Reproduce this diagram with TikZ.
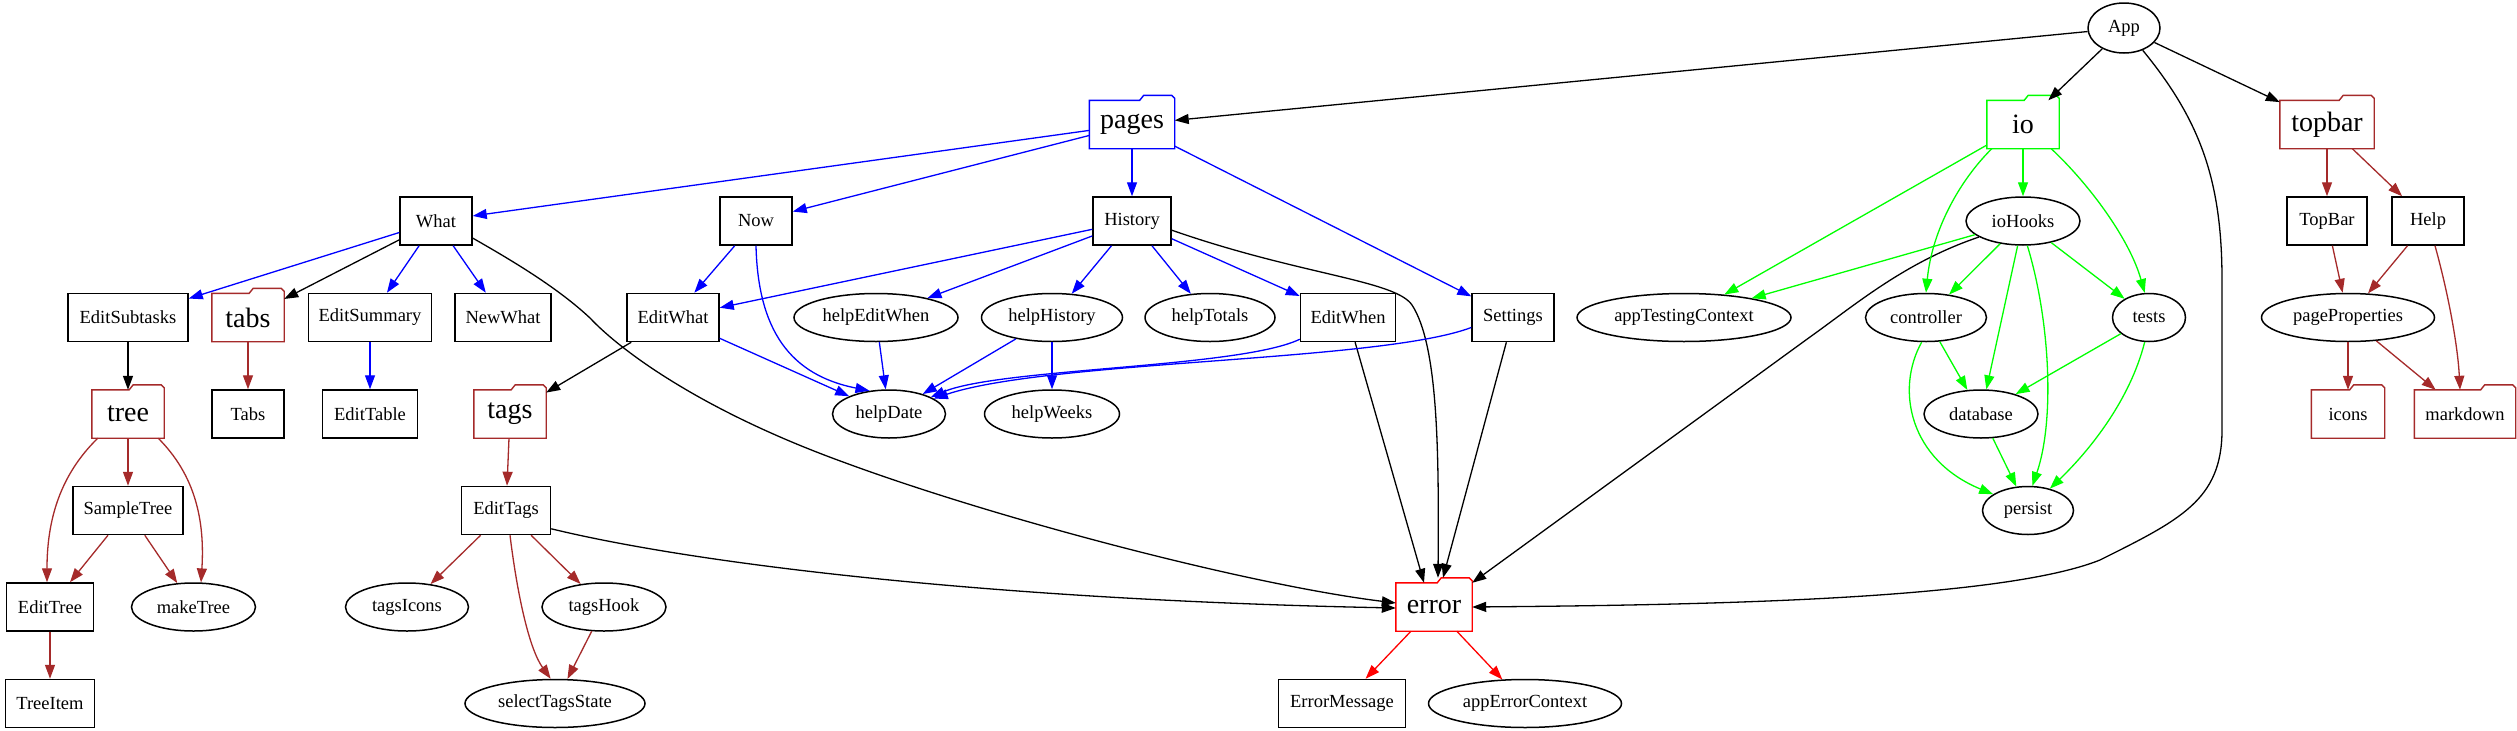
\documentclass[tikz,border=0pt]{standalone}
\usepackage{fontspec}
\setmainfont{Liberation Serif}
\usetikzlibrary{arrows.meta,shapes.geometric}
\definecolor{gvblue}{RGB}{0,0,255}
\definecolor{gvgreen}{RGB}{0,255,0}
\definecolor{gvbrown}{RGB}{165,42,42}
\definecolor{gvred}{RGB}{255,0,0}
\newcommand{\gvfolder}[2]{\draw[#2,line width=1.4pt] (#1.south west) -- (#1.north west) -- ([xshift=-35pt]#1.north east) -- ([xshift=-31pt,yshift=5pt]#1.north east) -- ([xshift=-3pt,yshift=5pt]#1.north east) -- ([yshift=2pt]#1.north east) -- (#1.south east) -- cycle;}
\tikzset{
  nfont/.style={font=\fontsize{18.5}{22}\selectfont},
  bfont/.style={font=\fontsize{28}{32}\selectfont},
  box/.style={draw, rectangle, line width=1.5pt, minimum height=48pt, inner sep=0pt, nfont},
  ell/.style={draw, ellipse, line width=1.5pt, minimum height=48pt, inner sep=0pt, nfont},
  fold/.style={rectangle, minimum height=48pt, inner sep=0pt, bfont},
  folds/.style={rectangle, minimum height=48pt, inner sep=0pt, nfont},
  ed/.style={line width=1.3pt, -{Triangle[length=14pt,width=10pt]}},
  ek/.style={ed, black},
  eb/.style={ed, gvblue},
  eg/.style={ed, gvgreen},
  er/.style={ed, gvbrown},
  ex/.style={ed, gvred}
}
\begin{document}
\begin{tikzpicture}[x=1pt,y=-1pt]
\fill[white] (0,0) rectangle (2517,731);
\useasboundingbox (0,0) rectangle (2517,731);
% row 0
\node[ell, minimum width=72pt, minimum height=50pt] (App) at (2124,28) {App};
% row 1
\node[fold, minimum width=85pt] (pages) at (1132,124.5) {pages};
\node[fold, minimum width=72pt] (io) at (2023,124.5) {io};
\node[fold, minimum width=94pt] (topbar) at (2327,124.5) {topbar};
% row 2
\node[box, minimum width=72pt] (What) at (436,221) {What};
\node[box, minimum width=72pt] (Now) at (756,221) {Now};
\node[box, minimum width=78pt] (History) at (1132,221) {History};
\node[ell, minimum width=114pt] (ioHooks) at (2023,221) {ioHooks};
\node[box, minimum width=80pt] (TopBar) at (2327,221) {TopBar};
\node[box, minimum width=72pt] (Help) at (2428,221) {Help};
% row 3
\node[box, minimum width=120pt] (EditSubtasks) at (128,317.5) {EditSubtasks};
\node[fold, minimum width=72pt] (tabs) at (248,317.5) {tabs};
\node[box, minimum width=123pt] (EditSummary) at (370,317.5) {EditSummary};
\node[box, minimum width=96pt] (NewWhat) at (503,317.5) {NewWhat};
\node[box, minimum width=92pt] (EditWhat) at (673,317.5) {EditWhat};
\node[ell, minimum width=164pt] (helpEditWhen) at (876,317.5) {helpEditWhen};
\node[ell, minimum width=141pt] (helpHistory) at (1052,317.5) {helpHistory};
\node[ell, minimum width=130pt] (helpTotals) at (1210,317.5) {helpTotals};
\node[box, minimum width=95pt] (EditWhen) at (1348,317.5) {EditWhen};
\node[box, minimum width=82pt] (Settings) at (1513,317.5) {Settings};
\node[ell, minimum width=214pt] (appTestingContext) at (1684,317.5) {appTestingContext};
\node[ell, minimum width=121pt] (controller) at (1926,317.5) {controller};
\node[ell, minimum width=73pt] (tests) at (2149,317.5) {tests};
\node[ell, minimum width=173pt] (pageProperties) at (2348,317.5) {pageProperties};
% row 4
\node[fold, minimum width=72pt] (tree) at (128,414) {tree};
\node[box, minimum width=72pt] (Tabs) at (248,414) {Tabs};
\node[box, minimum width=95pt] (EditTable) at (370,414) {EditTable};
\node[fold, minimum width=72pt] (tags) at (510,414) {tags};
\node[ell, minimum width=113pt] (helpDate) at (889,414) {helpDate};
\node[ell, minimum width=135pt] (helpWeeks) at (1052,414) {helpWeeks};
\node[ell, minimum width=114pt] (database) at (1981,414) {database};
\node[folds, minimum width=73pt] (icons) at (2348,414) {icons};
\node[folds, minimum width=101pt] (markdown) at (2465,414) {markdown};
% row 5
\node[box, minimum width=110pt] (SampleTree) at (128,510.5) {SampleTree};
\node[box, minimum width=89pt] (EditTags) at (506,510.5) {EditTags};
\node[ell, minimum width=91pt] (persist) at (2028,510.5) {persist};
% row 6
\node[box, minimum width=87pt] (EditTree) at (50,607) {EditTree};
\node[ell, minimum width=124pt] (makeTree) at (193.5,607) {makeTree};
\node[ell, minimum width=123pt] (tagsIcons) at (407,607) {tagsIcons};
\node[ell, minimum width=124pt] (tagsHook) at (604,607) {tagsHook};
\node[fold, minimum width=76pt] (error) at (1434,607) {error};
% row 7
\node[box, minimum width=89pt] (TreeItem) at (50,703.5) {TreeItem};
\node[ell, minimum width=180pt] (selectTagsState) at (555,703.5) {selectTagsState};
\node[box, minimum width=127pt] (ErrorMessage) at (1342,703.5) {ErrorMessage};
\node[ell, minimum width=193pt] (appErrorContext) at (1525,703.5) {appErrorContext};
% folders
\gvfolder{pages}{gvblue}
\gvfolder{io}{gvgreen}
\gvfolder{topbar}{gvbrown}
\gvfolder{tabs}{gvbrown}
\gvfolder{tree}{gvbrown}
\gvfolder{tags}{gvbrown}
\gvfolder{icons}{gvbrown}
\gvfolder{markdown}{gvbrown}
\gvfolder{error}{gvred}
% black edges
\draw[ek] (App) -- (pages);
\draw[ek] (App) -- (io);
\draw[ek] (App) -- (topbar);
\draw[ek] (App.-50) .. controls (2200,120) and (2222,180) .. (2222,280) -- (2222,430) .. controls (2222,500) and (2180,520) .. (2100,560) .. controls (2000,600) and (1700,605) .. (error.east);
\draw[ek] (ioHooks.200) .. controls (1905,262) and (1855,305) .. (1810,337) -- (error.north east);
\draw[ek] (What.-25) .. controls (520,265) and (560,290) .. (590,318) .. controls (620,350) and (700,410) .. (843,462) .. controls (1000,520) and (1250,585) .. ([yshift=4pt]error.west);
\draw[ek] (EditTags.-22) .. controls (700,565) and (1000,600) .. ([yshift=-1pt]error.west);
\draw[ek] (History.-13) .. controls (1300,275) and (1395,280) .. (1412,305) .. controls (1438,345) and (1439,450) .. ([xshift=4pt,yshift=5pt]error.north);
\draw[ek] (EditWhen) -- ([xshift=-10pt]error.north);
\draw[ek] (Settings) -- ([xshift=9pt,yshift=5pt]error.north);
\draw[ek] (What) -- (tabs);
\draw[ek] (EditSubtasks) -- (tree);
\draw[ek] (EditWhat) -- (tags);
% blue edges
\draw[eb] (pages) -- (What);
\draw[eb] (pages) -- (Now);
\draw[eb] (pages) -- (History);
\draw[eb] (pages) -- (Settings);
\draw[eb] (What) -- (EditSubtasks);
\draw[eb] (What) -- (EditSummary);
\draw[eb] (What) -- (NewWhat);
\draw[eb] (EditSummary) -- (EditTable);
\draw[eb] (Now) -- (EditWhat);
\draw[eb] (Now.south) .. controls (758,330) and (790,375) .. (helpDate.130);
\draw[eb] (History) -- (EditWhat);
\draw[eb] (History) -- (helpEditWhen);
\draw[eb] (History) -- (helpHistory);
\draw[eb] (History) -- (helpTotals);
\draw[eb] (History) -- (EditWhen);
\draw[eb] (EditWhat) -- (helpDate);
\draw[eb] (helpEditWhen) -- (helpDate);
\draw[eb] (helpHistory) -- (helpDate);
\draw[eb] (helpHistory) -- (helpWeeks);
\draw[eb] ([yshift=3pt]EditWhen.south west) .. controls (1240,368) and (1000,368) .. (helpDate.22);
\draw[eb] ([yshift=-10pt]Settings.west) .. controls (1380,362) and (1050,360) .. (helpDate.19);
% green edges
\draw[eg] (io) -- (appTestingContext);
\draw[eg] (io) -- (ioHooks);
\draw[eg] ([xshift=5pt]io.south west) .. controls (1960,180) and (1932,230) .. (controller.north);
\draw[eg] ([xshift=-8pt]io.south east) .. controls (2090,185) and (2130,240) .. (tests.100);
\draw[eg] (ioHooks) -- (appTestingContext);
\draw[eg] (ioHooks) -- (controller);
\draw[eg] (ioHooks) -- (tests);
\draw[eg] (ioHooks) -- (database);
\draw[eg] (ioHooks.-80) .. controls (2050,320) and (2055,420) .. (persist.80);
\draw[eg] (controller) -- (database);
\draw[eg] (controller.-100) .. controls (1895,390) and (1910,460) .. (persist.155);
\draw[eg] (tests) -- (database);
\draw[eg] (tests.-100) .. controls (2130,400) and (2090,450) .. (persist.45);
\draw[eg] (database) -- (persist);
% brown edges
\draw[er] (topbar) -- (TopBar);
\draw[er] (topbar) -- (Help);
\draw[er] (TopBar) -- (pageProperties);
\draw[er] (Help) -- (pageProperties);
\draw[er] ([xshift=7pt]Help.south) .. controls (2450,300) and (2458,350) .. ([xshift=-5pt]markdown.north);
\draw[er] (pageProperties) -- (icons);
\draw[er] (pageProperties) -- (markdown);
\draw[er] (tabs) -- (Tabs);
\draw[er] (tree) -- (SampleTree);
\draw[er] ([xshift=6pt]tree.south west) .. controls (60,475) and (47,520) .. ([xshift=-3pt]EditTree.north);
\draw[er] ([xshift=-6pt]tree.south east) .. controls (195,475) and (205,520) .. (makeTree.73);
\draw[er] (SampleTree) -- (EditTree);
\draw[er] (SampleTree) -- (makeTree);
\draw[er] (EditTree) -- (TreeItem);
\draw[er] (tags) -- (EditTags);
\draw[er] (EditTags) -- (tagsIcons);
\draw[er] (EditTags) -- (tagsHook);
\draw[er] ([xshift=4pt]EditTags.south) .. controls (518,600) and (530,650) .. (selectTagsState.100);
\draw[er] (tagsHook) -- (selectTagsState);
% red edges
\draw[ex] (error) -- (ErrorMessage);
\draw[ex] (error) -- (appErrorContext);
\end{tikzpicture}
\end{document}
